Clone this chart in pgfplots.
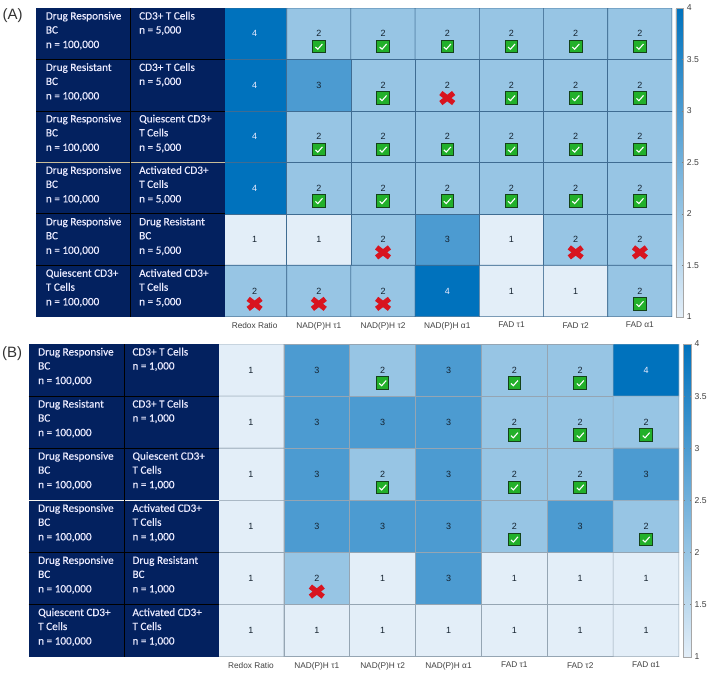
\documentclass[border=0pt]{standalone}
\usepackage{fontspec}
\setmainfont{Liberation Sans}
\newfontfamily\tablefont[FakeBold=0.25]{Carlito}
\usepackage{pgfplots}
\usepackage{pgfplotstable}
\pgfplotsset{compat=1.18}
\definecolor{navy}{HTML}{03215F}
\definecolor{sepline}{HTML}{C9BD98}
\definecolor{gridA}{HTML}{3F6C92}
\definecolor{gridB}{HTML}{95A5B3}
\definecolor{labelc}{HTML}{404040}
\definecolor{cellt}{HTML}{14222F}
\definecolor{chkfill}{HTML}{22B02A}
\definecolor{chkedge}{HTML}{14421A}
\definecolor{crossc}{HTML}{D8141F}
\pgfdeclareplotmark{chk}{%
  \pgfsetlinewidth{0.9pt}\pgfsetstrokecolor{chkedge}\pgfsetfillcolor{chkfill}%
  \pgfpathrectangle{\pgfpoint{-6.3pt}{-6.3pt}}{\pgfpoint{12.6pt}{12.6pt}}\pgfusepath{fill,stroke}%
  \pgfsetstrokecolor{white}\pgfsetlinewidth{1.1pt}%
  \pgfpathmoveto{\pgfpoint{-3.4pt}{-0.4pt}}\pgfpathlineto{\pgfpoint{-1pt}{-2.6pt}}\pgfpathlineto{\pgfpoint{3.6pt}{2.6pt}}\pgfusepath{stroke}}
\pgfdeclareplotmark{crs}{%
  \pgfsetlinewidth{5.2pt}\pgfsetstrokecolor{crossc}\pgfsetbuttcap%
  \pgfpathmoveto{\pgfpoint{-6.4pt}{-5pt}}\pgfpathlineto{\pgfpoint{6.4pt}{5pt}}%
  \pgfpathmoveto{\pgfpoint{-6.4pt}{5pt}}\pgfpathlineto{\pgfpoint{6.4pt}{-5pt}}\pgfusepath{stroke}}
\pgfplotstableread{
x y v
0 0 4
1 0 2
2 0 2
3 0 2
4 0 2
5 0 2
6 0 2
0 1 4
1 1 3
2 1 2
3 1 2
4 1 2
5 1 2
6 1 2
0 2 4
1 2 2
2 2 2
3 2 2
4 2 2
5 2 2
6 2 2
0 3 4
1 3 2
2 3 2
3 3 2
4 3 2
5 3 2
6 3 2
0 4 1
1 4 1
2 4 2
3 4 3
4 4 1
5 4 2
6 4 2
0 5 2
1 5 2
2 5 2
3 5 4
4 5 1
5 5 1
6 5 2
}\tableA
\pgfplotstableread{
x y v
0 0 1
1 0 3
2 0 2
3 0 3
4 0 2
5 0 2
6 0 4
0 1 1
1 1 3
2 1 3
3 1 3
4 1 2
5 1 2
6 1 2
0 2 1
1 2 3
2 2 2
3 2 3
4 2 2
5 2 2
6 2 3
0 3 1
1 3 3
2 3 3
3 3 3
4 3 2
5 3 3
6 3 2
0 4 1
1 4 2
2 4 1
3 4 3
4 4 1
5 4 1
6 4 1
0 5 1
1 5 1
2 5 1
3 5 1
4 5 1
5 5 1
6 5 1
}\tableB
\pgfplotsset{
  heat/.style={
    scale only axis, y dir=reverse,
    xmin=-0.5, xmax=6.5, ymin=-0.5, ymax=5.5,
    xtick={0,...,6}, ytick=\empty,
    xticklabels={Redox Ratio,NAD(P)H τ1,NAD(P)H τ2,NAD(P)H α1,FAD τ1,FAD τ2,FAD α1},
    x tick label style={font=\fontsize{8.3}{9}\selectfont, text=labelc, yshift=-2pt},
    major tick length=0pt, axis line style={draw=none},
    colormap={bl}{rgb255=(227,238,248) rgb255=(151,197,228) rgb255=(76,155,209) rgb255=(0,114,189)},
    point meta min=1, point meta max=4,
    colorbar,
    colorbar style={
      at={(1.0088,1)}, anchor=north west,
      ytick={1,1.5,2,2.5,3,3.5,4}, 
      y tick label style={font=\fontsize{8.6}{9}\selectfont, text=labelc, /pgf/number format/assume math mode=true, xshift=0pt},
      major tick length=1.5pt, axis line style={draw=gray!70}, ytick style={draw=gray},
      yticklabel pos=right,
    },
  },
  lab/.style={only marks, mark=none, point meta=explicit symbolic,
    nodes near coords={\ifnum\pgfplotspointmeta=4 \textcolor{white!75!blue!30}{4}\else\textcolor{cellt}{\pgfplotspointmeta}\fi},
    nodes near coords align={center},
    every node near coord/.append style={font=\fontsize{9}{10}\selectfont, anchor=center, inner sep=0pt, yshift=0pt}},
}
\newcommand{\tbrow}[7]{%
  \node[anchor=base west,inner sep=0pt] at (\xa pt,{-(#1+11.5)*1pt}) {#2};
  \node[anchor=base west,inner sep=0pt] at (\xa pt,{-(#1+25.5)*1pt}) {#3};
  \node[anchor=base west,inner sep=0pt] at (\xa pt,{-(#1+40)*1pt}) {#4};
  \node[anchor=base west,inner sep=0pt] at (\xb pt,{-(#1+11.5)*1pt}) {#5};
  \node[anchor=base west,inner sep=0pt] at (\xb pt,{-(#1+25.5)*1pt}) {#6};
  \node[anchor=base west,inner sep=0pt] at (\xb pt,{-(#1+40)*1pt}) {#7};
}
\newcommand{\tbfull}[2]{% top, rowheight; uses \nn for second group n
  \pgfmathsetmacro\ya{#1}\pgfmathsetmacro\yb{#1+#2}\pgfmathsetmacro\yc{#1+2*#2}
  \pgfmathsetmacro\yd{#1+3*#2}\pgfmathsetmacro\ye{#1+4*#2}\pgfmathsetmacro\yf{#1+5*#2}
  \begingroup\tablefont\fontsize{11.2}{13}\selectfont\color{white!92!blue}
  \tbrow{\ya}{Drug Responsive}{BC}{n = 100,000}{CD3+ T Cells}{n = \nn}{}
  \tbrow{\yb}{Drug Resistant}{BC}{n = 100,000}{CD3+ T Cells}{n = \nn}{}
  \tbrow{\yc}{Drug Responsive}{BC}{n = 100,000}{Quiescent CD3+}{T Cells}{n = \nn}
  \tbrow{\yd}{Drug Responsive}{BC}{n = 100,000}{Activated CD3+}{T Cells}{n = \nn}
  \tbrow{\ye}{Drug Responsive}{BC}{n = 100,000}{Drug Resistant}{BC}{n = \nn}
  \tbrow{\yf}{Quiescent CD3+}{T Cells}{n = 100,000}{Activated CD3+}{T Cells}{n = \nn}
  \endgroup
}
\begin{document}
\begin{tikzpicture}
\path[use as bounding box] (0,0) rectangle (709pt,-673pt);
\node[anchor=base west,inner sep=0pt,font=\fontsize{15}{18}\selectfont,text=black!80] at (2.5pt,-19pt) {(A)};
\node[anchor=base west,inner sep=0pt,font=\fontsize{15}{18}\selectfont,text=black!80] at (2pt,-357pt) {(B)};
% Panel A
\begin{axis}[heat, at={(222.5pt,-316.7pt)}, anchor=south west, width=449.5pt, height=308.7pt,
  colorbar style={width=7.5pt}]
\addplot[matrix plot, mesh/cols=7, point meta=explicit, draw=gridA, line width=0.6pt] table[x=x,y=y,meta=v] {\tableA};
\addplot[lab] table[x=x,y=y,meta=v] {\tableA};
\addplot[only marks, mark=chk] coordinates {
 (1,0.25)(2,0.25)(3,0.25)(4,0.25)(5,0.25)(6,0.25)
 (2,1.25)(4,1.25)(5,1.25)(6,1.25)
 (1,2.25)(2,2.25)(3,2.25)(4,2.25)(5,2.25)(6,2.25)
 (1,3.25)(2,3.25)(3,3.25)(4,3.25)(5,3.25)(6,3.25)
 (6,5.25)};
\addplot[only marks, mark=crs] coordinates {
 (3,1.25)(2,4.25)(5,4.25)(6,4.25)(0,5.25)(1,5.25)(2,5.25)};
\end{axis}
% Panel B
\begin{axis}[heat, at={(218pt,-656.7pt)}, anchor=south west, width=461pt, height=312.7pt,
  colorbar style={width=8pt}]
\addplot[matrix plot, mesh/cols=7, point meta=explicit, draw=gridB, line width=0.6pt] table[x=x,y=y,meta=v] {\tableB};
\addplot[lab] table[x=x,y=y,meta=v] {\tableB};
\addplot[only marks, mark=chk] coordinates {
 (2,0.25)(4,0.25)(5,0.25)
 (4,1.25)(5,1.25)(6,1.25)
 (2,2.25)(4,2.25)(5,2.25)
 (4,3.25)(6,3.25)};
\addplot[only marks, mark=crs] coordinates {(1,4.25)};
\end{axis}
% Table A
\fill[navy] (36pt,-8pt) rectangle (225pt,-316.7pt);
\foreach \yy in {59.4,110.8,213.6,265.2} \draw[black,line width=0.6pt] (36pt,-\yy pt) -- (225pt,-\yy pt);
\draw[sepline,line width=0.8pt] (36pt,-162.3pt) -- (225pt,-162.3pt);
\draw[black,line width=0.6pt] (130.7pt,-8pt) -- (130.7pt,-316.7pt);
\def\xa{45.7}\def\xb{139}\def\nn{5,000}
\tbfull{8}{51.45}
% Table B
\fill[navy] (28.7pt,-344pt) rectangle (219pt,-656.7pt);
\foreach \yy in {396,448.3,552.4,604.5} \draw[black,line width=0.6pt] (28.7pt,-\yy pt) -- (219pt,-\yy pt);
\draw[white!85!sepline,line width=0.8pt] (28.7pt,-500.2pt) -- (219pt,-500.2pt);
\draw[black,line width=0.6pt] (124.3pt,-344pt) -- (124.3pt,-656.7pt);
\def\xa{38}\def\xb{132.3}\def\nn{1,000}
\tbfull{344}{52.1}
\end{tikzpicture}
\end{document}
